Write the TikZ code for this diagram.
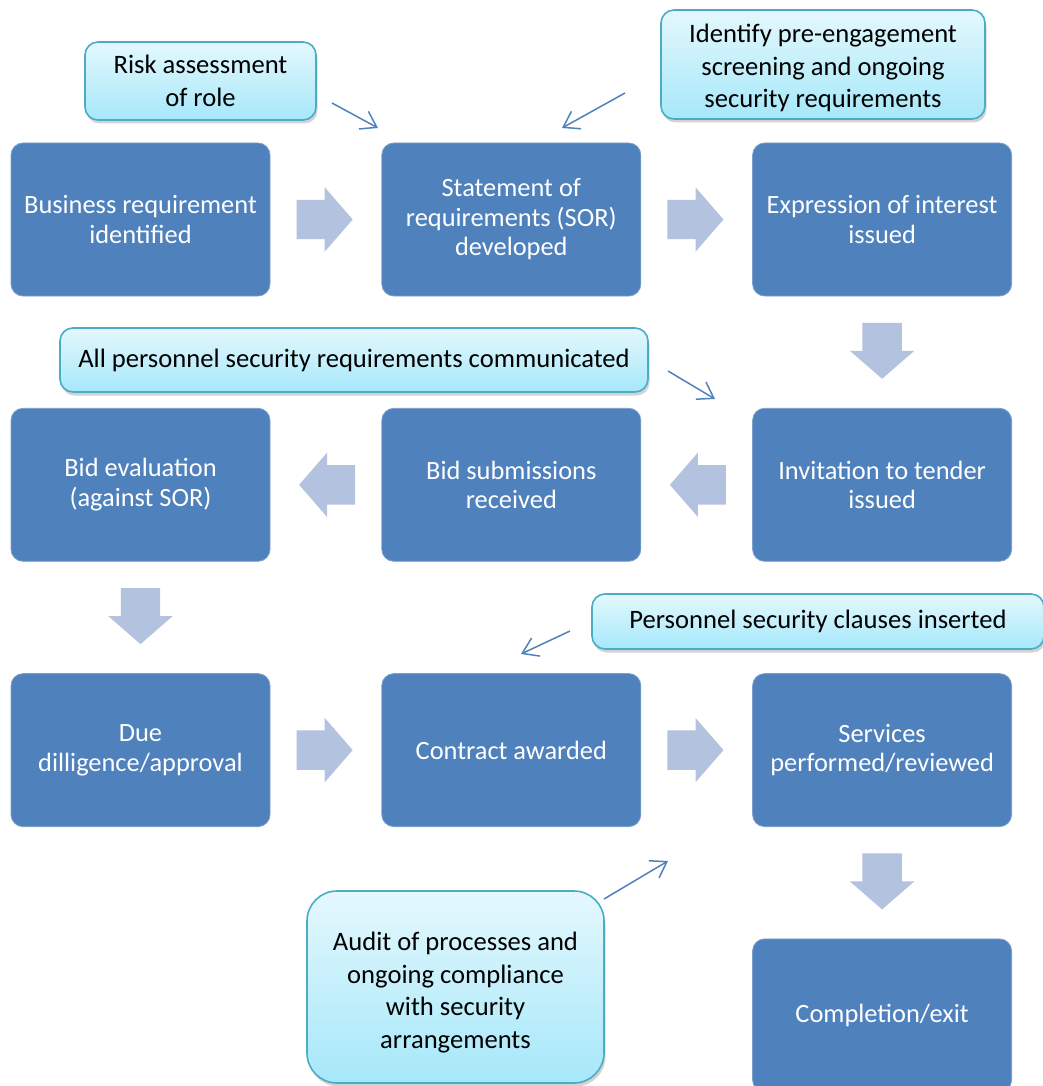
\documentclass[tikz,border=0pt]{standalone}
\usepackage{fontspec}
\setmainfont{Carlito}
\usetikzlibrary{shapes.arrows,arrows.meta,positioning,shadows}
\definecolor{boxblue}{RGB}{79, 129, 189}
\definecolor{arrowgrey}{RGB}{179, 194, 222}
\definecolor{noteline}{RGB}{75, 172, 198}
\definecolor{notetop}{RGB}{228, 248, 253}
\definecolor{notebottom}{RGB}{166, 232, 250}

\begin{document}
\begin{tikzpicture}[x=1pt, y=-1pt, node distance=111.5pt and 111pt,
    stage/.style={rectangle, rounded corners=12pt, draw=boxblue!75!white, line width=0.8pt, fill=boxblue, text=white, minimum width=259pt, minimum height=153pt, align=center, font=\fontsize{26.4}{29.5}\selectfont},
    note/.style={rectangle, rounded corners=13pt, draw=noteline, line width=1.6pt, top color=notetop, bottom color=notebottom, align=center, font=\fontsize{26.6}{32.5}\selectfont, drop shadow={shadow xshift=1.5pt, shadow yshift=-3.5pt, opacity=0.35}},
    fat/.style={single arrow, fill=arrowgrey, draw=none, minimum height=56pt, minimum width=64pt, inner xsep=0pt, inner ysep=19.5pt, single arrow head extend=12.5pt, single arrow tip angle=98, sloped, allow upside down, anchor=tail, pos=0.235},
    hint/.style={boxblue, line width=1.5pt, -{Straight Barb[length=15pt, width=20pt]}}]
    \useasboundingbox (0,0) rectangle (1042,1086);

    % Etapas
    \node[stage] (biz) at (140.5,219.5) {Business requirement\\identified};
    \node[stage, right=of biz] (sor) {Statement of\\requirements (SOR)\\developed};
    \node[stage, right=of sor] (eoi) {Expression of interest\\issued};
    \node[stage, below=of eoi] (itt) {Invitation to tender\\issued};
    \node[stage, left=of itt] (bids) {Bid submissions\\received};
    \node[stage, left=of bids] (eval) {Bid evaluation\\(against SOR)};
    \node[stage, below=of eval] (due) {Due\\dilligence/approval};
    \node[stage, right=of due] (award) {Contract awarded};
    \node[stage, right=of award] (perf) {Services\\performed/reviewed};
    \node[stage, below=of perf] (done) {Completion/exit};

    % Flechas
    \path (biz) -- node[fat] {} (sor);
    \path (sor) -- node[fat] {} (eoi);
    \path (eoi) -- node[fat] {} (itt);
    \path (itt) -- node[fat] {} (bids);
    \path (bids) -- node[fat] {} (eval);
    \path (eval) -- node[fat] {} (due);
    \path (due) -- node[fat] {} (award);
    \path (award) -- node[fat] {} (perf);
    \path (perf) -- node[fat] {} (done);

    % Notas
    \node[note, minimum width=231pt, minimum height=78pt] (risk) at (200.5,81) {Risk assessment\\of role};
    \node[note, minimum width=324pt, minimum height=109pt] (screen) at (823,64.5) {\rule{0pt}{26pt}Identify pre-engagement\\screening and ongoing\\security requirements};
    \node[note, minimum width=588pt, minimum height=64pt] (comms) at (354,360) {All personnel security requirements communicated};
    \node[note, minimum width=452pt, minimum height=55pt] (clauses) at (818,621.5) {Personnel security clauses inserted};
    \node[note, rounded corners=30pt, minimum width=297pt, minimum height=192pt] (audit) at (455.5,987) {\rule{0pt}{30pt}Audit of processes and\\ongoing compliance\\with security\\arrangements};

    % Indicadores
    \coordinate (riskfrom) at (332,103);
    \coordinate (riskto) at (378,128);
    \coordinate (screenfrom) at (625,93);
    \coordinate (screento) at (562,128);
    \coordinate (commsfrom) at (668,371);
    \coordinate (commsto) at (715,399);
    \coordinate (clausesfrom) at (570,631);
    \coordinate (clausesto) at (521,654);
    \coordinate (auditfrom) at (604,899);
    \coordinate (auditto) at (668,861);
    \draw[hint] (riskfrom) -- (riskto);
    \draw[hint] (screenfrom) -- (screento);
    \draw[hint] (commsfrom) -- (commsto);
    \draw[hint] (clausesfrom) -- (clausesto);
    \draw[hint] (auditfrom) -- (auditto);
\end{tikzpicture}
\end{document}
